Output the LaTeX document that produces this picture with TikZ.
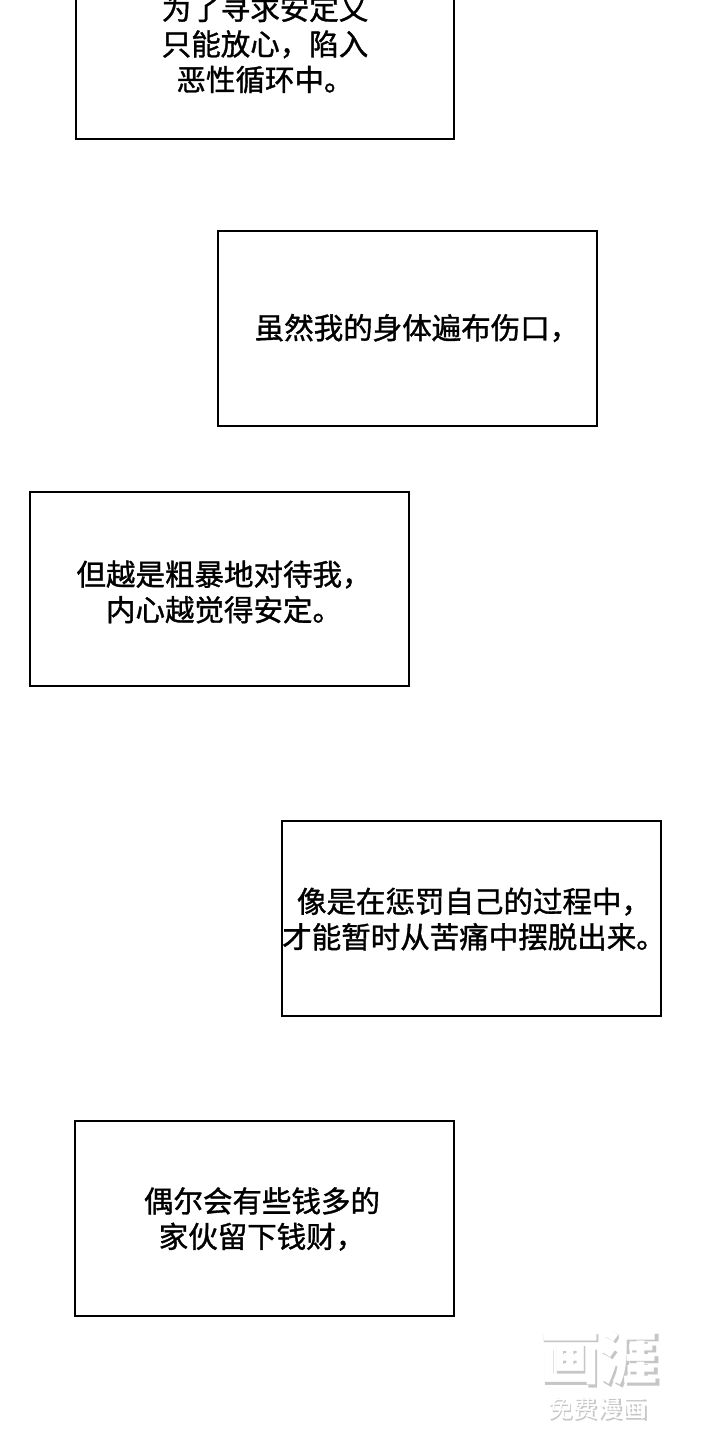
\documentclass[tikz,border=0pt]{standalone}
\usepackage{fontspec}
\newfontfamily\cjk{Noto Sans CJK SC}
\newfontfamily\cjkb[FakeBold=1.2]{Noto Sans CJK SC}
\begin{document}
\begin{tikzpicture}[x=1pt,y=-1pt,
  panel/.style={draw=black,line width=2pt,fill=white},
  txt/.style={font=\cjkb\fontsize{29.5}{35.5}\selectfont,align=center,inner sep=0pt}]
\clip (0,0) rectangle (720,1440);
\fill[white] (0,0) rectangle (720,1440);
\draw[panel] (76,-10) rectangle (454,139);
\node[txt] (t1) at (265,44) {为了寻求安定又\\只能放心，陷入\\恶性循环中。};
\draw[panel] (218,231) rectangle (597,426);
\node[txt] (t2) at (417,328) {虽然我的身体遍布伤口，};
\draw[panel] (30,492) rectangle (409,686);
\node[txt] (t3) at (224,592) {但越是粗暴地对待我，\\内心越觉得安定。};
\draw[panel] (282,821) rectangle (661,1016);
\node[txt] (t4) at (474,919) {像是在惩罚自己的过程中，\\才能暂时从苦痛中摆脱出来。};
\draw[panel] (75,1121) rectangle (454,1316);
\node[txt] (t5) at (262,1219) {偶尔会有些钱多的\\家伙留下钱财，};
\node[font=\cjk\bfseries\fontsize{60}{60}\selectfont,text=gray!45] (w1s) at (601,1360) {画涯};
\node[font=\cjk\bfseries\fontsize{58}{58}\selectfont,text=white] (w1) at (599,1358) {画涯};
\node[font=\cjk\fontsize{25}{25}\selectfont,text=gray!45] (w2s) at (599,1410) {免费漫画};
\node[font=\cjk\fontsize{24}{24}\selectfont,text=white] (w2) at (597,1408) {免费漫画};
\end{tikzpicture}
\end{document}
